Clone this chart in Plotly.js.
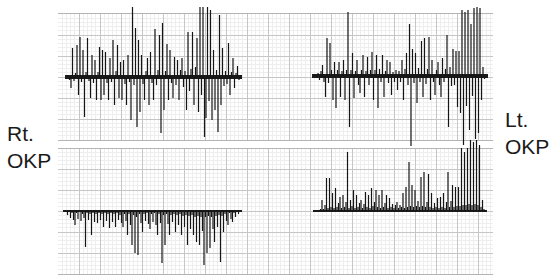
<!DOCTYPE html>
<html>
<head>
<meta charset="utf-8">
<script src="https://cdn.plot.ly/plotly-3.0.1.min.js"></script>
<style>html,body{margin:0;padding:0;background:#fff;}#chart{width:550px;height:275px;}</style>
</head>
<body>
<div id="chart"></div>
<script>
const rtRaw = [2,-3,-11,29,-4,4,32,-18,40,-5,27,-40,5,39,-4,-21,22,-6,17,-23,5,30,-23,27,-18,25,-6,-23,19,-5,
  37,-28,6,32,-21,15,-23,17,-7,-28,22,-5,-43,70,-8,49,-50,37,-35,22,-7,-23,6,19,-28,25,-6,-23,48,-8,
  7,42,-56,54,-33,6,33,-23,27,-6,-21,20,-8,17,-23,7,19,-10,6,-33,45,-14,8,45,-28,10,39,-35,70,-18,
  70,-60,-41,70,-24,67,-43,27,-33,7,-55,62,-28,29,-9,6,-7,34,-18,5,19,-11,4,11,-3];

const ltRaw = [1,-2,3,-4,5,11,-6,-21,38,-7,33,6,-24,14,-32,6,14,-21,5,16,-24,6,64,-51,6,23,-22,5,16,-9,
  -17,6,21,-21,5,19,-9,6,24,-24,6,21,-32,7,-6,21,-21,5,16,-7,14,-19,4,-6,6,-14,5,-6,16,-24,
  7,23,-9,52,-70,27,-7,23,-27,8,-6,35,-21,38,-8,7,39,-24,16,-6,-19,6,14,-9,-21,18,-6,7,41,-51,
  9,-10,27,-9,25,-31,25,-37,66,-69,64,-30,66,-54,52,-20,68,-63,69,-57,68,-24,9,-3];

const rtRect = [-1,-4,-1,-7,-2,-9,-14,-2,-8,-1,-10,-3,-7,-36,-2,-9,-3,-24,-2,-11,-3,-12,-2,-9,-3,-16,-2,-10,-3,-17,
  -2,-11,-3,-16,-2,-9,-4,-12,-16,-3,-10,-24,-3,-14,-34,-4,-42,-6,-44,-3,-12,-21,-3,-10,-2,-13,-18,-3,-11,-2,
  -14,-24,-3,-12,-52,-4,-34,-3,-13,-24,-4,-11,-3,-21,-4,-14,-3,-24,-5,-16,-4,-34,-5,-18,-4,-24,-6,-31,-5,-34,
  -6,-20,-54,-6,-42,-5,-37,-6,-18,-31,-5,-16,-4,-51,-5,-21,-3,-10,-14,-2,-8,-11,-2,-6,-1,-3];

const ltRect = [0,1,1,2,11,2,6,33,3,33,4,18,3,23,4,8,14,3,16,4,9,59,3,11,5,21,3,16,4,8,
  11,3,7,19,4,16,3,23,5,9,21,4,16,3,21,4,8,16,3,13,4,7,3,6,9,3,6,4,18,3,
  24,4,49,5,26,4,21,5,10,4,34,5,39,4,9,37,4,18,3,8,4,13,3,14,4,18,3,9,39,4,
  10,26,4,24,5,24,5,63,6,59,6,63,7,71,6,69,7,71,6,66,4,11,2];

const labelLeft = 'Rt.<br>OKP';
const labelRight = 'Lt.<br>OKP';

// ---- layout geometry (pixels of the 550x275 canvas) ----
const W = 550, H = 275;
const STEP = 1.5;               // px per sample
const PAD = 3;                  // px of baseline beyond first/last sample
const panels = [
  {data: rtRaw,  startPx: 68,  basePx: 77,  zw: 4},
  {data: ltRaw,  startPx: 315, basePx: 76,  zw: 4},
  {data: rtRect, startPx: 66,  basePx: 211, zw: 2},
  {data: ltRect, startPx: 316, basePx: 211, zw: 2}
];

const gridMajor = '#c6c6c6', gridMinor = '#eeeeee';
function gridX(extra) {
  return Object.assign({
    domain: [58 / W, 493 / W], range: [0, 435], tick0: 0, dtick: 21,
    showgrid: true, gridcolor: gridMajor, gridwidth: 1,
    minor: {dtick: 4.2, showgrid: true, gridcolor: gridMinor, gridwidth: 1},
    showticklabels: false, ticks: '', zeroline: false,
    showline: true, mirror: true, linecolor: '#b4b4b4', linewidth: 1, fixedrange: true
  }, extra || {});
}
function gridY(extra) {
  return Object.assign({
    tick0: 0, dtick: 21,
    showgrid: true, gridcolor: gridMajor, gridwidth: 1,
    minor: {dtick: 4.2, showgrid: true, gridcolor: gridMinor, gridwidth: 1},
    showticklabels: false, ticks: '', zeroline: false, showline: false, fixedrange: true
  }, extra || {});
}

const layout = {
  width: W, height: H,
  margin: {l: 0, r: 0, t: 0, b: 0, pad: 0},
  paper_bgcolor: '#ffffff', plot_bgcolor: 'rgba(0,0,0,0)',
  showlegend: false,
  xaxis: gridX({anchor: 'y'}),
  yaxis: gridY({anchor: 'x', domain: [(H - 140) / H, (H - 14) / H], range: [-63, 63]}),
  xaxis2: gridX({anchor: 'y2'}),
  yaxis2: gridY({anchor: 'x2', domain: [(H - 274) / H, (H - 149) / H], range: [-63, 62]}),
  annotations: [
    {text: labelLeft, xref: 'paper', yref: 'paper', x: 5 / W, y: (H - 147) / H,
     xanchor: 'left', yanchor: 'middle', align: 'left', showarrow: false,
     font: {family: 'Liberation Sans, Arial, sans-serif', size: 21, color: '#1a1a1a'}},
    {text: labelRight, xref: 'paper', yref: 'paper', x: 503 / W, y: (H - 133) / H,
     xanchor: 'left', yanchor: 'middle', align: 'left', showarrow: false,
     font: {family: 'Liberation Sans, Arial, sans-serif', size: 21, color: '#1a1a1a'}}
  ]
};

const traces = [
  {x: [0], y: [0], xaxis: 'x', yaxis: 'y', mode: 'markers', marker: {opacity: 0}, hoverinfo: 'skip'},
  {x: [0], y: [0], xaxis: 'x2', yaxis: 'y2', mode: 'markers', marker: {opacity: 0}, hoverinfo: 'skip'}
];

panels.forEach((p, k) => {
  const n = k + 3;
  const N = p.data.length;
  const xs = p.data.map((_, i) => i);
  const x0 = p.startPx - PAD, x1 = p.startPx + (N - 1) * STEP + PAD;
  layout['xaxis' + n] = {
    domain: [x0 / W, x1 / W], anchor: 'y' + n,
    range: [-PAD / STEP, (N - 1) + PAD / STEP],
    visible: false, fixedrange: true
  };
  layout['yaxis' + n] = {
    domain: [0, 1], anchor: 'x' + n,
    range: [-(H - p.basePx), p.basePx],
    visible: true, showgrid: false, showticklabels: false, ticks: '', showline: false,
    zeroline: true, zerolinecolor: '#1a1a1a', zerolinewidth: p.zw, fixedrange: true
  };
  traces.push({
    x: xs, y: p.data, xaxis: 'x' + n, yaxis: 'y' + n,
    type: 'bar', width: 0.8,
    marker: {color: '#151515', line: {width: 0}},
    hoverinfo: 'skip'
  });
});

Plotly.newPlot('chart', traces, layout, {staticPlot: true, displayModeBar: false});
</script>
</body>
</html>
